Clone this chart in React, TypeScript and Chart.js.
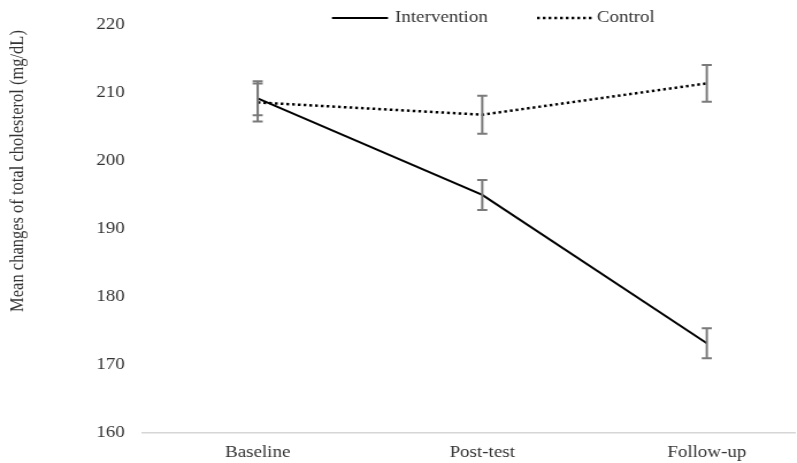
import React, { useEffect, useRef } from "react";
import { Chart, registerables } from "chart.js";

Chart.register(...registerables);

// Measurement occasions and group means with their error margins (mg/dL)
const categories = ["Baseline", "Post-test", "Follow-up"];
const interventionMean = [209.2, 195.0, 173.2];
const interventionErr = [2.5, 2.2, 2.2];
const controlMean = [208.6, 206.8, 211.4];
const controlErr = [2.8, 2.8, 2.7];
const yMin = 160;
const yMax = 220;
const yStep = 10;
const yTitle = "Mean changes of total cholesterol (mg/dL)";
const legendLabels = ["Intervention", "Control"];

// The figure is drawn on a narrower canvas and widened horizontally
const STRETCH = 1.15;
const W = 693;
const H = 463;
const FONT_FAMILY = "'Liberation Serif', 'Times New Roman', serif";
const TEXT = "#333333";
const DOT_DASH = [2.4, 2.6];

const errorBarPlugin = {
  id: "errorBars",
  afterDatasetsDraw(chart: any) {
    const { ctx, scales } = chart;
    const x = scales.x;
    const y = scales.y;
    ctx.save();
    ctx.strokeStyle = "#7a7a7a";
    ctx.lineWidth = 2;
    ctx.setLineDash([]);
    chart.data.datasets.forEach((ds: any) => {
      ds.data.forEach((pt: any, i: number) => {
        const e = ds.errors[i];
        const px = x.getPixelForValue(pt.x);
        const top = y.getPixelForValue(pt.y + e);
        const bot = y.getPixelForValue(pt.y - e);
        const cap = 4.4;
        ctx.beginPath();
        ctx.moveTo(px, top);
        ctx.lineTo(px, bot);
        ctx.moveTo(px - cap, top);
        ctx.lineTo(px + cap, top);
        ctx.moveTo(px - cap, bot);
        ctx.lineTo(px + cap, bot);
        ctx.stroke();
      });
    });
    ctx.restore();
  },
};

const decorPlugin = {
  id: "decor",
  afterDraw(chart: any) {
    const { ctx } = chart;
    ctx.save();
    // rotated y-axis title
    ctx.font = `16.5px ${FONT_FAMILY}`;
    ctx.fillStyle = TEXT;
    ctx.textAlign = "center";
    ctx.textBaseline = "middle";
    ctx.translate(15.7, 171);
    ctx.rotate(-Math.PI / 2);
    ctx.fillText(yTitle, 0, 0);
    ctx.restore();

    // legend across the top
    ctx.save();
    const ly = 18;
    ctx.strokeStyle = "#000000";
    ctx.lineWidth = 2;
    ctx.beginPath();
    ctx.moveTo(288.7, ly);
    ctx.lineTo(337.4, ly);
    ctx.stroke();
    ctx.lineWidth = 2.5;
    ctx.setLineDash(DOT_DASH);
    ctx.beginPath();
    ctx.moveTo(467, ly);
    ctx.lineTo(515.7, ly);
    ctx.stroke();
    ctx.setLineDash([]);
    ctx.font = `16.5px ${FONT_FAMILY}`;
    ctx.fillStyle = TEXT;
    ctx.textAlign = "left";
    ctx.textBaseline = "middle";
    ctx.fillText(legendLabels[0], 343.5, ly);
    ctx.fillText(legendLabels[1], 519, ly);
    ctx.restore();
  },
};

export default function App() {
  const canvasRef = useRef<HTMLCanvasElement | null>(null);

  useEffect(() => {
    if (!canvasRef.current) return;
    const chart = new Chart(canvasRef.current, {
      type: "line",
      data: {
        datasets: [
          {
            label: legendLabels[0],
            data: interventionMean.map((v, i) => ({ x: i, y: v })),
            errors: interventionErr,
            borderColor: "#000000",
            borderWidth: 2,
            pointRadius: 0,
            tension: 0,
            fill: false,
          } as any,
          {
            label: legendLabels[1],
            data: controlMean.map((v, i) => ({ x: i, y: v })),
            errors: controlErr,
            borderColor: "#000000",
            borderWidth: 2.5,
            borderDash: DOT_DASH,
            pointRadius: 0,
            tension: 0,
            fill: false,
          } as any,
        ],
      },
      options: {
        animation: false,
        responsive: true,
        maintainAspectRatio: false,
        layout: { padding: { top: 18, right: 0, bottom: 0, left: 0 } },
        plugins: {
          legend: { display: false },
          tooltip: { enabled: false },
          title: { display: false },
        },
        scales: {
          x: {
            type: "linear",
            min: -0.515,
            max: 2.395,
            grid: { display: false, drawTicks: false },
            border: { display: true, color: "#d6d6d6", width: 1.5 },
            afterBuildTicks: (s: any) => {
              s.ticks = categories.map((_, i) => ({ value: i }));
            },
            afterFit: (s: any) => {
              s.height = 30;
            },
            ticks: {
              autoSkip: false,
              maxRotation: 0,
              padding: 10,
              color: TEXT,
              font: { family: FONT_FAMILY, size: 16.5 },
              callback: (v: any) => categories[v] ?? "",
            },
          },
          y: {
            min: yMin,
            max: yMax,
            grid: { display: false, drawTicks: false },
            border: { display: false },
            afterFit: (s: any) => {
              s.width = 123.5;
            },
            ticks: {
              stepSize: yStep,
              padding: 15,
              color: TEXT,
              font: { family: FONT_FAMILY, size: 16.5 },
            },
          },
        },
      },
      plugins: [errorBarPlugin, decorPlugin],
    });
    return () => chart.destroy();
  }, []);

  return (
    <div
      style={{
        position: "absolute",
        left: 0,
        top: 0,
        width: W * STRETCH,
        height: H,
        overflow: "hidden",
        background: "#ffffff",
      }}
    >
      <div
        style={{
          position: "relative",
          width: W,
          height: H,
          transform: `scaleX(${STRETCH})`,
          transformOrigin: "0 0",
        }}
      >
        <canvas ref={canvasRef} />
      </div>
    </div>
  );
}
